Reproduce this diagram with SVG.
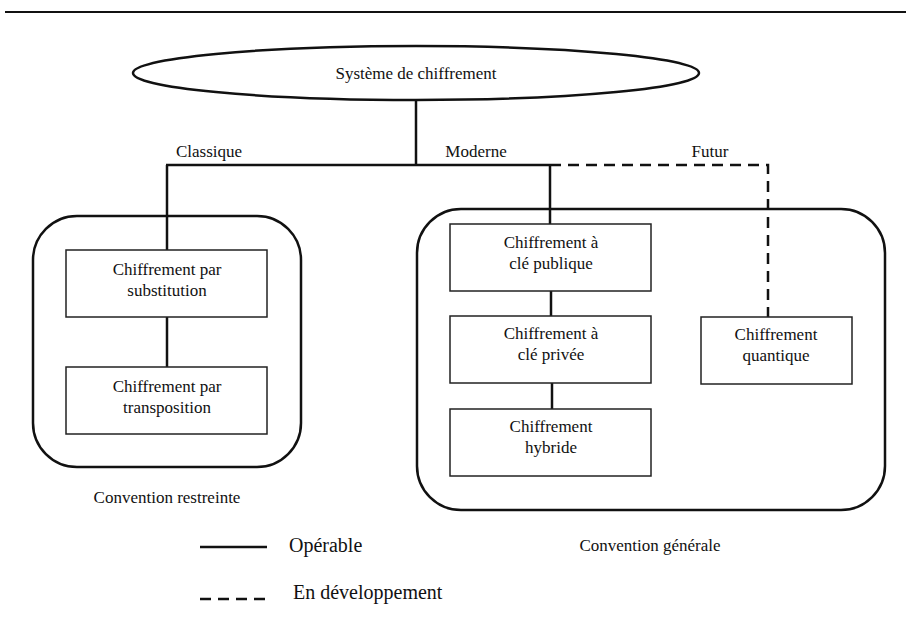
<svg xmlns="http://www.w3.org/2000/svg" width="906" height="625" viewBox="0 0 906 625">
<style>
text{font-family:"Liberation Serif","Times New Roman",serif;fill:#111;text-anchor:middle;font-size:17px}
.box{fill:#fff;stroke:#222;stroke-width:1.5}
.grp{fill:none;stroke:#111;stroke-width:2.5}
.ln{fill:none;stroke:#111;stroke-width:2.5}
.dash{fill:none;stroke:#111;stroke-width:2.5;stroke-dasharray:11 7}
.leg{font-size:20px;text-anchor:start}
</style>
<rect width="906" height="625" fill="#fff"/>
<line x1="5" y1="12" x2="906" y2="12" stroke="#111" stroke-width="2"/>
<g id="conv-restreinte">
<rect class="grp" x="33" y="216" width="268" height="251" rx="44"/>
<text x="167" y="503">Convention restreinte</text>
</g>
<g id="conv-generale">
<rect class="grp" x="417" y="209" width="468" height="301" rx="44"/>
<text x="650" y="551">Convention générale</text>
</g>
<g id="connectors">
<line class="ln" x1="416" y1="99" x2="416" y2="165"/>
<line class="ln" x1="166" y1="165" x2="550" y2="165"/>
<polyline class="dash" points="550,165 768,165 768,317"/>
<line class="ln" x1="167" y1="165" x2="167" y2="250"/>
<line class="ln" x1="167" y1="317" x2="167" y2="367"/>
<line class="ln" x1="550" y1="165" x2="550" y2="224"/>
<line class="ln" x1="551" y1="291" x2="551" y2="316"/>
<line class="ln" x1="552" y1="383" x2="552" y2="409"/>
<text x="209" y="157">Classique</text>
<text x="476" y="157">Moderne</text>
<text x="710" y="157">Futur</text>
</g>
<g id="systeme">
<ellipse cx="416" cy="73" rx="283" ry="27" fill="#fff" stroke="#111" stroke-width="2.5"/>
<text x="416" y="79">Système de chiffrement</text>
</g>
<g id="substitution">
<rect class="box" x="66" y="250" width="201" height="67"/>
<text x="167" y="275">Chiffrement par</text>
<text x="167" y="296">substitution</text>
</g>
<g id="transposition">
<rect class="box" x="66" y="367" width="201" height="67"/>
<text x="167" y="392">Chiffrement par</text>
<text x="167" y="413">transposition</text>
</g>
<g id="publique">
<rect class="box" x="450" y="224" width="201" height="67"/>
<text x="551" y="248">Chiffrement à</text>
<text x="551" y="269">clé publique</text>
</g>
<g id="privee">
<rect class="box" x="450" y="316" width="201" height="67"/>
<text x="551" y="339">Chiffrement à</text>
<text x="551" y="360">clé privée</text>
</g>
<g id="hybride">
<rect class="box" x="450" y="409" width="201" height="67"/>
<text x="551" y="432">Chiffrement</text>
<text x="551" y="453">hybride</text>
</g>
<g id="quantique">
<rect class="box" x="701" y="317" width="151" height="67"/>
<text x="776" y="340">Chiffrement</text>
<text x="776" y="361">quantique</text>
</g>
<g id="legend">
<line class="ln" x1="200" y1="547" x2="267" y2="547"/>
<text class="leg" x="289" y="552">Opérable</text>
<line class="ln" x1="200" y1="599" x2="267" y2="599" stroke-dasharray="11 7"/>
<text class="leg" x="293" y="599">En développement</text>
</g>
</svg>
